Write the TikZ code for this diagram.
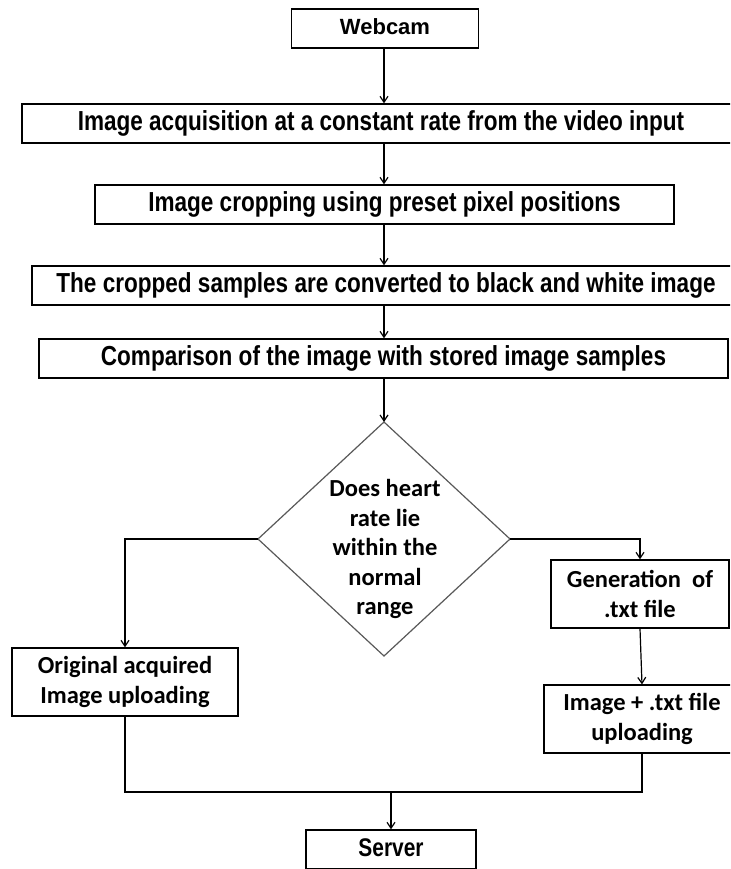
\documentclass[tikz,border=0pt]{standalone}
\usepackage{fontspec}
\setmainfont{Liberation Sans}
\newfontfamily\narrowfont{Liberation Sans}[FakeStretch=0.82]
\newfontfamily\calfont{Carlito}
\usetikzlibrary{arrows.meta}
\begin{document}
\begin{tikzpicture}[x=1pt,y=-1pt,
  box/.style={draw=black, line width=1.3pt, fill=white, inner sep=0pt, align=center},
  wide/.style={box, minimum height=39pt, text height=20pt, text depth=5.5pt,
    font=\narrowfont\bfseries\fontsize{27.5}{31}\selectfont},
  small/.style={box, font=\calfont\bfseries\fontsize{24.5}{29.5}\selectfont},
  plain/.style={box, minimum height=39pt, text height=16pt, text depth=4.5pt,
    font=\bfseries\fontsize{22}{26}\selectfont},
  arr/.style={-{Straight Barb[length=6pt,width=8pt]}, line width=1.2pt},
  conn/.style={line width=1.2pt}]
\useasboundingbox (0,0) rectangle (730,869);
\fill[white] (0,0) rectangle (730,869);
\clip (0,0) rectangle (730,869);

\node[plain, minimum width=187pt] (webcam) at (385,28.5) {Webcam};
\node[wide, minimum width=718pt] (acq) at (381,123.5) {Image acquisition at a constant rate from the video input};
\node[wide, minimum width=579pt] (crop) at (384.5,204.5) {Image cropping using preset pixel positions};
\node[wide, minimum width=708pt] (bw) at (386,285.5) {The cropped samples are converted to black and white image};
\node[wide, minimum width=689pt] (cmp) at (383.5,358.5) {Comparison of the image with stored image samples};

\coordinate (diaT) at (384,422);
\coordinate (diaB) at (384,656);
\coordinate (diaL) at (258,539);
\coordinate (diaR) at (510,539);
\draw[line width=1.2pt, draw=black!65, fill=white] (diaT) -- (diaR) -- (diaB) -- (diaL) -- cycle;
\node[align=center, inner sep=0pt, font=\calfont\bfseries\fontsize{24.5}{29.5}\selectfont] (dia) at (385,549)
  {Does heart\\rate lie\\within the\\normal\\range};

\node[small, minimum width=226pt, minimum height=68pt] (orig) at (125,682) {Original acquired\\Image uploading};
\node[small, minimum width=178pt, minimum height=68pt] (gen) at (640,594) {Generation\ \ of\\.txt file};
\node[small, minimum width=196pt, minimum height=68pt] (upl) at (642,719) {Image + .txt file\\uploading};
\node[wide, minimum width=170pt, text height=18pt, text depth=5pt,
  font=\narrowfont\bfseries\fontsize{25.5}{29}\selectfont] (server) at (391,849.5) {Server};

\draw[arr] (webcam.south -| diaT) -- (acq.north -| diaT);
\draw[arr] (acq.south -| diaT) -- (crop.north -| diaT);
\draw[arr] (crop.south -| diaT) -- (bw.north -| diaT);
\draw[arr] (bw.south -| diaT) -- (cmp.north -| diaT);
\draw[arr] (cmp.south -| diaT) -- (diaT);
\draw[arr] (diaL) -| (orig.north);
\draw[arr] (diaR) -| (gen.north);
\draw[arr] (gen.south) -- (upl.north);
\coordinate (join) at (391,792);
\draw[conn] (orig.south) |- (join);
\draw[conn] (upl.south) |- (join);
\draw[arr] (join) -- (server.north);
\end{tikzpicture}
\end{document}
